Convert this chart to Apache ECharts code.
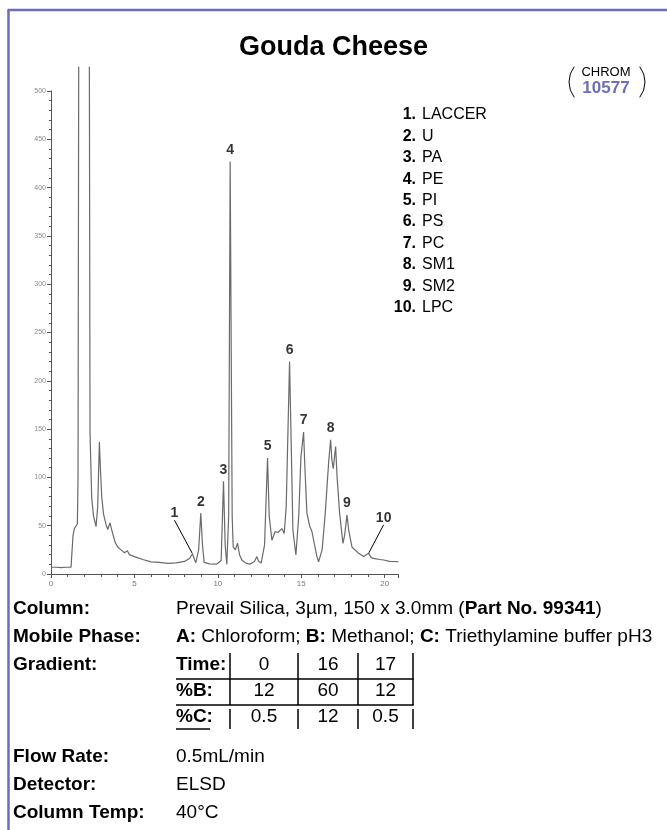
<!DOCTYPE html>
<html>
<head>
<meta charset="utf-8">
<script src="https://cdn.jsdelivr.net/npm/echarts@6/dist/echarts.min.js"></script>
<style>
  html, body { margin: 0; padding: 0; background: #fff; }
  #chart { width: 667px; height: 830px; }
</style>
</head>
<body>
<div id="chart"></div>
<script>
// ELSD trace: retention time (min) and detector response; null marks the off-scale solvent front
const retentionTimes = [
  0.0, 0.3, 0.6, 0.9, 1.2, 1.26, 1.32, 1.4, 1.5, 1.58, 1.62, 1.66,
  2.0, 2.3, 2.34, 2.44, 2.55, 2.7, 2.8, 2.9, 2.96, 3.04, 3.15, 3.3, 3.4, 3.54, 3.65, 3.84,
  4.0, 4.2, 4.4, 4.58, 4.7, 5.0, 5.5, 6.0, 6.5, 7.0, 7.5, 8.0, 8.3, 8.48, 8.6, 8.68,
  8.85, 8.98, 9.08, 9.18, 9.5, 9.94, 10.2, 10.34, 10.44, 10.54, 10.65, 10.74, 10.8, 10.86,
  10.92, 11.05, 11.18, 11.3, 11.44, 11.7, 11.94, 12.2, 12.34, 12.45, 12.6, 12.8, 12.98,
  13.08, 13.24, 13.44, 13.6, 13.84, 13.98, 14.1, 14.3, 14.38, 14.5, 14.68, 14.85, 14.98,
  15.06, 15.14, 15.22, 15.34, 15.5, 15.64, 15.94, 16.04, 16.25, 16.44, 16.64, 16.76,
  16.84, 16.92, 17.06, 17.15, 17.3, 17.5, 17.6, 17.74, 17.85, 18.04, 18.44, 18.74,
  19.04, 19.2, 19.34, 19.7, 19.94, 20.3, 20.84
];
const detectorSignal = [
  7, 7, 6.5, 7, 7, 8, 40, 47, 48, 52, 97, 525,
  null, 525, 146, 79, 60, 49, 70, 137, 110, 80, 62, 51, 46, 53, 45, 33,
  28, 25, 22, 24, 20, 18, 15, 12.5, 12, 11, 11.5, 13, 16, 21, 15, 11.7,
  25, 63, 30, 12, 10.5, 10.3, 14, 96, 30, 10, 60, 427, 240, 60,
  28, 25, 32, 20, 14.5, 11, 10.3, 13, 18, 13, 11.5, 30, 120,
  60, 35, 44, 43, 47, 42, 70, 220, 150, 45.5, 19.7, 60, 121,
  120, 147, 110, 63, 50, 44, 18, 12.7, 25, 63, 115, 139,
  118, 109, 132, 100, 63, 31.7, 40, 61, 45, 28, 21.4, 18,
  21.4, 17, 16.2, 15, 14.5, 13, 12.7
];

// Numbered peaks and their identities
const peakNumbers = ['1', '2', '3', '4', '5', '6', '7', '8', '9', '10'];
const peakTimes = [8.48, 8.98, 10.34, 10.74, 12.98, 14.3, 15.14, 16.76, 17.74, 19.04];
const peakNames = ['LACCER', 'U', 'PA', 'PE', 'PI', 'PS', 'PC', 'SM1', 'SM2', 'LPC'];

// Gradient program
const gradientTime = ['0', '16', '17'];
const gradientB = ['12', '60', '12'];
const gradientC = ['0.5', '12', '0.5'];

// Method conditions
const conditionLabels = ['Column:', 'Mobile Phase:', 'Gradient:', 'Flow Rate:', 'Detector:', 'Column Temp:'];
const conditionValues = [
  'Prevail Silica, 3µm, 150 x 3.0mm ({b|Part No. 99341})',
  '{b|A:} Chloroform; {b|B:} Methanol; {b|C:} Triethylamine buffer pH3',
  '',
  '0.5mL/min',
  'ELSD',
  '40°C'
];

const FONT = '"Liberation Sans", Arial, Helvetica, sans-serif';
const PURPLE = '#6e6eb6';
const INFO_SIZE = 19;

const tracePoints = retentionTimes.map((t, i) =>
  [t, detectorSignal[i] === null ? '-' : detectorSignal[i]]);

const peakPoints = peakTimes.map((t, i) => {
  const idx = retentionTimes.indexOf(t);
  const item = { value: [t, detectorSignal[idx]], name: peakNumbers[i] };
  if (i === 0 || i === peakTimes.length - 1) {
    item.labelLine = { show: true };
  }
  return item;
});

function txt(x, y, text, font, align, extra) {
  return { type: 'text', x: x, y: y,
    style: Object.assign({ text: text, fill: '#000', font: font,
      align: align, verticalAlign: 'middle', textAlign: align, textVerticalAlign: 'middle' }, extra || {}) };
}
function seg(x1, y1, x2, y2, color, w) {
  return { type: 'line', shape: { x1: x1, y1: y1, x2: x2, y2: y2 },
    style: { stroke: color, lineWidth: w } };
}

const graphics = [];

// frame
graphics.push(seg(8.5, 10, 8.5, 830, PURPLE, 2.5));
graphics.push(seg(7.5, 10, 667, 10, PURPLE, 2.5));

// CHROM badge
graphics.push(txt(606, 72, 'CHROM', '13px ' + FONT, 'center'));
graphics.push(txt(606, 88, '10577', 'bold 17px ' + FONT, 'center', { fill: PURPLE }));
graphics.push({ type: 'arc', shape: { cx: 594, cy: 82, r: 25, startAngle: Math.PI - 0.66, endAngle: Math.PI + 0.66, clockwise: true },
  style: { stroke: '#000', fill: 'none', lineWidth: 1 } });
graphics.push({ type: 'arc', shape: { cx: 620, cy: 82, r: 25, startAngle: -0.66, endAngle: 0.66, clockwise: true },
  style: { stroke: '#000', fill: 'none', lineWidth: 1 } });

// peak key
peakNames.forEach((name, i) => {
  const y = 115 + i * 21.4;
  graphics.push(txt(416, y, peakNumbers[i] + '.', 'bold 16px ' + FONT, 'right'));
  graphics.push(txt(422, y, name, '16px ' + FONT, 'left'));
});

// conditions block
const rowY = [609, 637, 665, 757, 785, 813];
const valueX = 176;
conditionLabels.forEach((lab, i) => {
  graphics.push(txt(13, rowY[i], lab, 'bold ' + INFO_SIZE + 'px ' + FONT, 'left'));
  if (conditionValues[i]) {
    graphics.push(txt(valueX, rowY[i], conditionValues[i], INFO_SIZE + 'px ' + FONT, 'left',
      { rich: { b: { fontWeight: 'bold', fontSize: INFO_SIZE, fontFamily: FONT, fill: '#000' } } }));
  }
});

// gradient table
const tableRows = [['Time:', gradientTime], ['%B:', gradientB], ['%C:', gradientC]];
const tableY = [665, 691, 717];
const colBars = [230, 298, 358, 413];
tableRows.forEach((row, r) => {
  graphics.push(txt(valueX, tableY[r], row[0], 'bold ' + INFO_SIZE + 'px ' + FONT, 'left'));
  row[1].forEach((v, c) => {
    graphics.push(txt((colBars[c] + colBars[c + 1]) / 2, tableY[r], v, INFO_SIZE + 'px ' + FONT, 'center'));
  });
  colBars.forEach((bx) => {
    const top = r === 2 ? tableY[r] - 8 : tableY[r] - 12;
    const bottom = r === 2 ? tableY[r] + 12 : tableY[r] + 14;
    graphics.push(seg(bx, top, bx, bottom, '#000', 1.5));
  });
});
[679, 705].forEach((ly) => graphics.push(seg(valueX, ly, 413.75, ly, '#000', 1.5)));
graphics.push(seg(valueX, 729, valueX + 34, 729, '#000', 1.5));

const chart = echarts.init(document.getElementById('chart'), null, { renderer: 'canvas' });
chart.setOption({
  animation: false,
  backgroundColor: '#fff',
  title: {
    text: 'Gouda Cheese',
    left: 'center',
    top: 29,
    textStyle: { fontFamily: FONT, fontWeight: 'bold', fontSize: 27, color: '#000' }
  },
  grid: { left: 51, right: 269, top: 91, bottom: 256 },
  xAxis: {
    type: 'value', min: 0, max: 20.8, interval: 5,
    axisLine: { lineStyle: { color: '#555', width: 1 } },
    axisTick: { length: 4, lineStyle: { color: '#555' } },
    minorTick: { show: true, splitNumber: 5, length: 3, lineStyle: { color: '#555' } },
    axisLabel: { fontSize: 8, color: '#777', fontFamily: FONT, margin: 6,
      formatter: (v) => (v % 5 === 0 ? String(v) : '') },
    splitLine: { show: false }
  },
  yAxis: {
    type: 'value', min: 0, max: 500, interval: 50,
    axisLine: { show: true, lineStyle: { color: '#555', width: 1 } },
    axisTick: { show: true, length: 4, lineStyle: { color: '#555' } },
    minorTick: { show: true, splitNumber: 5, length: 2, lineStyle: { color: '#555' } },
    axisLabel: { fontSize: 7, color: '#888', fontFamily: FONT, margin: 5 },
    splitLine: { show: false }
  },
  series: [
    {
      type: 'line',
      data: tracePoints,
      showSymbol: false,
      connectNulls: false,
      clip: false,
      lineStyle: { color: '#6a6a6a', width: 1.2 },
      z: 2
    },
    {
      type: 'scatter',
      data: peakPoints,
      symbolSize: 1,
      itemStyle: { color: 'rgba(0,0,0,0)' },
      label: {
        show: true, position: 'top', distance: 4,
        formatter: (p) => p.name,
        fontFamily: FONT, fontWeight: 'bold', fontSize: 14, color: '#000'
      },
      labelLine: { show: false, lineStyle: { color: '#000', width: 1 } },
      labelLayout: (p) => {
        if (p.dataIndex === 0) return { dx: -18, dy: -29 };
        if (p.dataIndex === peakTimes.length - 1) return { dx: 15, dy: -24 };
        return {};
      },
      z: 3
    }
  ],
  graphic: graphics
});
</script>
</body>
</html>
